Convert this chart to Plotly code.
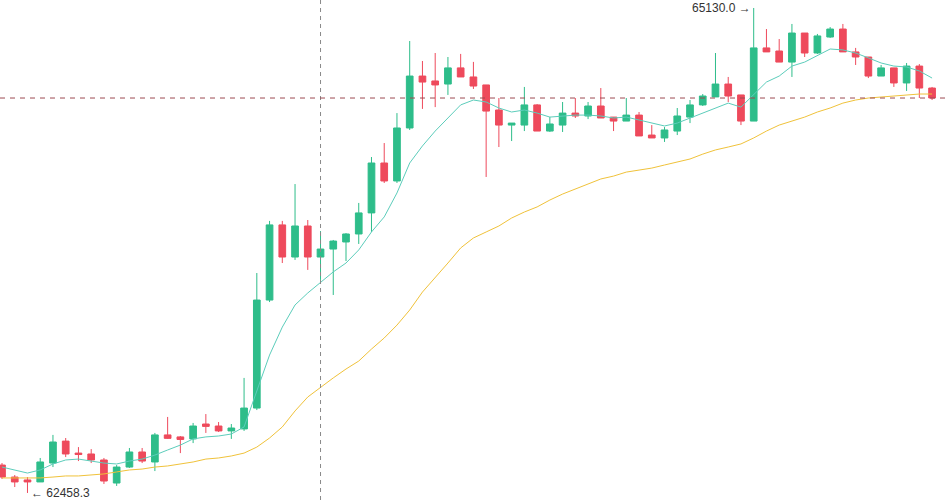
import plotly.graph_objects as go

# Candles (oldest -> newest)
opens = [62612, 62546, 62530, 62519, 62623, 62744, 62678, 62673, 62640, 62513,
         62601, 62684, 62629, 62778, 62767, 62756, 62838, 62827, 62800, 62811,
         62926, 63521, 63935, 63758, 63929, 63758, 63802, 63841, 63885, 64001,
         64276, 64177, 64469, 64755, 64728, 64711, 64800, 64750, 64706, 64568,
         64485, 64485, 64596, 64452, 64485, 64551, 64535, 64590, 64529, 64507,
         64540, 64430, 64414, 64452, 64529, 64596, 64640, 64711, 64651, 64507,
         64910, 64893, 64832, 64992, 64882, 64970, 65014, 64888, 64860, 64755,
         64800, 64717, 64810, 64689]
highs = [62623, 62557, 62546, 62651, 62778, 62761, 62711, 62700, 62651, 62612,
         62706, 62706, 62789, 62877, 62772, 62844, 62893, 62849, 62838, 63092,
         63670, 63957, 63957, 64160, 63962, 63901, 63852, 63890, 64056, 64309,
         64386, 64551, 64948, 64838, 64882, 64860, 64877, 64833, 64706, 64634,
         64496, 64695, 64601, 64530, 64612, 64634, 64612, 64689, 64529, 64634,
         64557, 64485, 64474, 64579, 64623, 64656, 64882, 64750, 64651, 65130,
         65014, 64959, 65042, 64992, 64987, 65025, 65042, 64910, 64860, 64816,
         64800, 64827, 64821, 64695]
lows = [62535, 62491, 62458.3, 62519, 62601, 62656, 62634, 62623, 62508, 62497,
        62596, 62623, 62579, 62756, 62678, 62733, 62789, 62794, 62756, 62800,
        62915, 63510, 63725, 63742, 63687, 63632, 63549, 63736, 63830, 63896,
        64166, 64166, 64458, 64574, 64584, 64651, 64750, 64684, 64199, 64364,
        64397, 64452, 64452, 64447, 64447, 64524, 64518, 64524, 64452, 64507,
        64425, 64414, 64392, 64430, 64496, 64590, 64640, 64612, 64485, 64507,
        64888, 64832, 64750, 64860, 64877, 64965, 64888, 64816, 64744, 64755,
        64695, 64673, 64634, 64623]
closes = [62546, 62519, 62519, 62629, 62739, 62673, 62670, 62640, 62524, 62601,
          62684, 62634, 62778, 62759, 62753, 62827, 62825, 62800, 62816, 62926,
          63521, 63935, 63758, 63929, 63758, 63802, 63846, 63885, 64001, 64276,
          64177, 64469, 64755, 64722, 64706, 64800, 64750, 64700, 64562, 64485,
          64496, 64596, 64452, 64491, 64551, 64535, 64590, 64524, 64507, 64540,
          64425, 64414, 64458, 64535, 64596, 64645, 64711, 64645, 64507, 64910,
          64888, 64832, 64992, 64882, 64976, 65014, 64888, 64860, 64755, 64800,
          64717, 64810, 64689, 64634]

# Moving averages
ma_fast = [62601, 62585, 62568, 62585, 62618, 62640, 62645, 62634, 62623, 62618,
           62634, 62645, 62667, 62695, 62722, 62756, 62767, 62772, 62783, 62822,
           63026, 63218, 63372, 63494, 63560, 63620, 63676, 63725, 63797, 63896,
           63979, 64111, 64276, 64370, 64452, 64524, 64596, 64623, 64612, 64579,
           64557, 64568, 64551, 64529, 64535, 64540, 64540, 64535, 64524, 64529,
           64513, 64496, 64480, 64496, 64524, 64551, 64579, 64606, 64584, 64651,
           64722, 64755, 64810, 64832, 64866, 64904, 64899, 64882, 64855, 64827,
           64810, 64805, 64783, 64744]
ma_slow = [62541, 62541, 62541, 62541, 62546, 62552, 62552, 62557, 62563, 62574,
           62585, 62590, 62601, 62607, 62618, 62629, 62645, 62651, 62662, 62678,
           62711, 62761, 62822, 62910, 62987, 63042, 63092, 63141, 63185, 63251,
           63312, 63383, 63466, 63565, 63642, 63725, 63808, 63863, 63896, 63929,
           63973, 64006, 64034, 64072, 64105, 64133, 64160, 64188, 64204, 64226,
           64237, 64248, 64265, 64281, 64298, 64325, 64348, 64364, 64381, 64414,
           64452, 64485, 64507, 64529, 64557, 64579, 64606, 64623, 64634, 64639,
           64645, 64651, 64656, 64656]

idx = list(range(len(opens)))
high_val = 65130.0
low_val = 62458.3
high_i = highs.index(max(highs))
low_i = lows.index(min(lows))
cross_i = 25

GREEN = "#2ebd8a"
RED = "#ee4a5c"

fig = go.Figure()
fig.add_trace(go.Candlestick(
    x=idx, open=opens, high=highs, low=lows, close=closes,
    increasing=dict(line=dict(color=GREEN, width=1), fillcolor=GREEN),
    decreasing=dict(line=dict(color=RED, width=1), fillcolor=RED),
    whiskerwidth=0, hoverinfo="skip", showlegend=False,
))
fig.add_trace(go.Scatter(x=idx, y=ma_fast, mode="lines",
                         line=dict(color="#5ccdbb", width=1), hoverinfo="skip",
                         showlegend=False))
fig.add_trace(go.Scatter(x=idx, y=ma_slow, mode="lines",
                         line=dict(color="#f0c23a", width=1), hoverinfo="skip",
                         showlegend=False))

fig.add_shape(type="line", xref="x", yref="paper", x0=cross_i, x1=cross_i, y0=0, y1=1,
              line=dict(color="#8a8a8a", width=1, dash="4px,4px"))
fig.add_shape(type="line", xref="paper", yref="y", x0=0, x1=1,
              y0=closes[-1], y1=closes[-1],
              line=dict(color="#9c4a52", width=1, dash="5px,5px"))

fig.add_annotation(x=high_i, y=high_val, text=f"{high_val:.1f} →", showarrow=False,
                   xanchor="right", yanchor="middle", xshift=-1,
                   font=dict(family="Liberation Sans, Arial", size=12, color="#333333"))
fig.add_annotation(x=low_i, y=low_val, text=f"← {low_val:.1f}", showarrow=False,
                   xanchor="left", yanchor="middle", xshift=2,
                   font=dict(family="Liberation Sans, Arial", size=12, color="#333333"))

fig.update_layout(
    width=948, height=500,
    margin=dict(l=0, r=0, t=0, b=0),
    paper_bgcolor="white", plot_bgcolor="white",
    boxgap=0.25,
    hovermode=False,
    xaxis=dict(range=[-0.157, 74.25], visible=False, rangeslider=dict(visible=False),
               fixedrange=True),
    yaxis=dict(range=[62419.5, 65174], visible=False, fixedrange=True),
    showlegend=False,
)

fig.write_html("out.html")
